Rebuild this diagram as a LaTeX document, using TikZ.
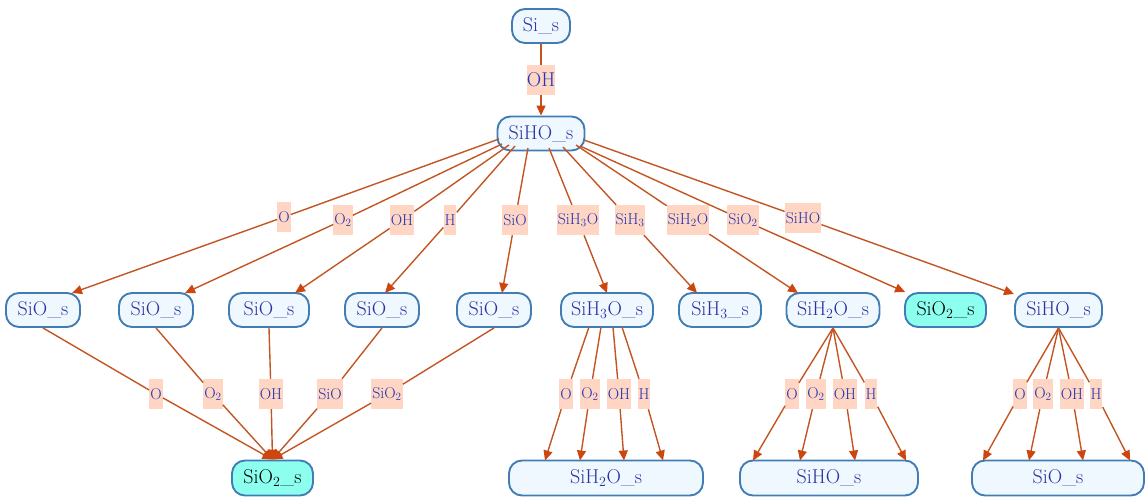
\documentclass[tikz,border=0pt]{standalone}
\usetikzlibrary{arrows.meta,calc}
\definecolor{nodeborder}{RGB}{65,125,180}
\definecolor{nodefill}{RGB}{240,248,255}
\definecolor{nodetext}{RGB}{40,50,160}
\definecolor{labfill}{RGB}{255,213,195}
\definecolor{labtext}{RGB}{35,55,180}
\definecolor{edgecol}{RGB}{195,85,35}
\definecolor{tipcol}{RGB}{205,70,15}
\definecolor{aquafill}{RGB}{140,255,238}
\begin{document}
\begin{tikzpicture}[x=1pt,y=-1pt,
 spec/.style={draw=nodeborder, line width=1.9pt, fill=nodefill, rounded corners=13pt,
   minimum height=34pt, inner sep=0pt, text=nodetext, font=\fontsize{20}{24}\selectfont},
 final/.style={spec, fill=aquafill, text=black},
 lab/.style={fill=labfill, text=labtext, inner xsep=1pt, inner ysep=0pt,
   minimum height=30pt, font=\fontsize{15.8}{18}\selectfont},
 edge/.style={draw=edgecol, line width=1.4pt, -{Triangle[length=10pt,width=9pt,color=tipcol]}},
 plain/.style={draw=edgecol, line width=1.4pt},
]
\useasboundingbox (0,0) rectangle (1146,498);

% top
\node[spec, minimum width=58pt] (si) at (541,26) {Si\_s};
\node[spec, minimum width=87pt] (hub) at (541,133.5) {SiHO\_s};
\node[lab, inner xsep=0pt, font=\fontsize{20}{24}\selectfont] (lOH) at (541,80) {OH};

% row 2
\node[spec, minimum width=74pt] (a1) at (43,310) {SiO\_s};
\node[spec, minimum width=74pt] (a2) at (156,310) {SiO\_s};
\node[spec, minimum width=80pt] (a3) at (269,310) {SiO\_s};
\node[spec, minimum width=74pt] (a4) at (382,310) {SiO\_s};
\node[spec, minimum width=74pt] (a5) at (494,310) {SiO\_s};
\node[spec, minimum width=92pt] (a6) at (607,310) {SiH\textsubscript{3}O\_s};
\node[spec, minimum width=82pt] (a7) at (720,310) {SiH\textsubscript{3}\_s};
\node[spec, minimum width=93pt] (a8) at (833,310) {SiH\textsubscript{2}O\_s};
\node[final, minimum width=81pt] (a9) at (945.5,310) {SiO\textsubscript{2}\_s};
\node[spec, minimum width=87pt] (a10) at (1058.5,310) {SiHO\_s};

% row 3
\node[final, minimum width=81pt, minimum height=35pt] (b1) at (272.5,478) {SiO\textsubscript{2}\_s};
\node[spec, minimum width=194pt, minimum height=35pt] (b2) at (606,478) {SiH\textsubscript{2}O\_s};
\node[spec, minimum width=178pt, minimum height=35pt] (b3) at (829,478) {SiHO\_s};
\node[spec, minimum width=172pt, minimum height=35pt] (b4) at (1058,478) {SiO\_s};

% row-1 labels
\node[lab] (l1) at (284,217) {O};
\node[lab] (l2) at (343,220) {O\textsubscript{2}};
\node[lab] (l3) at (402,220) {OH};
\node[lab] (l4) at (450,220) {H};
\node[lab] (l5) at (515,220) {SiO};
\node[lab] (l6) at (578,220) {SiH\textsubscript{3}O};
\node[lab] (l7) at (630,220) {SiH\textsubscript{3}};
\node[lab] (l8) at (688,220) {SiH\textsubscript{2}O};
\node[lab] (l9) at (743,220) {SiO\textsubscript{2}};
\node[lab] (l10) at (803,218) {SiHO};

% bottom labels
\node[lab] (m1) at (156,394) {O};
\node[lab] (m2) at (213,394) {O\textsubscript{2}};
\node[lab] (m3) at (271,394) {OH};
\node[lab] (m4) at (330,394) {SiO};
\node[lab] (m5) at (387,394) {SiO\textsubscript{2}};
\node[lab] (n1) at (566,394) {O};
\node[lab] (n2) at (590,394) {O\textsubscript{2}};
\node[lab] (n3) at (619,394) {OH};
\node[lab] (n4) at (644,394) {H};
\node[lab] (p1) at (792,394) {O};
\node[lab] (p2) at (816,394) {O\textsubscript{2}};
\node[lab] (p3) at (845,394) {OH};
\node[lab] (p4) at (871,394) {H};
\node[lab] (q1) at (1020,394) {O};
\node[lab] (q2) at (1043,394) {O\textsubscript{2}};
\node[lab] (q3) at (1072,394) {OH};
\node[lab] (q4) at (1096,394) {H};

% coordinates
\coordinate (s1) at (499,139);
\coordinate (s2) at (502,144);
\coordinate (s3) at (509,145);
\coordinate (s4) at (515,146);
\coordinate (s5) at (528,148);
\coordinate (s6) at (549,148);
\coordinate (s7) at (563,147);
\coordinate (s8) at (576,145);
\coordinate (s9) at (580,146);
\coordinate (s10) at (584,140);
\coordinate (t1) at (72,293);
\coordinate (t2) at (185,293);
\coordinate (t3) at (295,293);
\coordinate (t4) at (385,293);
\coordinate (t5) at (502,293);
\coordinate (t6) at (607,293);
\coordinate (t7) at (697,293);
\coordinate (t8) at (798,293);

\coordinate (u1) at (589,327);
\coordinate (u2) at (601,327);
\coordinate (u3) at (613,327);
\coordinate (u4) at (622,327);
\coordinate (v1) at (545,460.5);
\coordinate (v2) at (580,460.5);
\coordinate (v3) at (624,460.5);
\coordinate (v4) at (663,460.5);
\coordinate (w1) at (753,460.5);
\coordinate (w2) at (800,460.5);
\coordinate (w3) at (855,460.5);
\coordinate (w4) at (906,460.5);
\coordinate (x1) at (983,460.5);
\coordinate (x2) at (1029,460.5);
\coordinate (x3) at (1083,460.5);
\coordinate (x4) at (1130,460.5);

% edges
\draw[plain] (si) -- (lOH);
\draw[edge] (lOH) -- (hub);

\foreach \i in {1,...,8} {
  \draw[plain] (s\i) -- (l\i);
  \draw[edge] (l\i) -- (t\i);
}
\draw[plain] (s9) -- (l9);
\draw[edge] (l9) -- (a9);
\draw[plain] (s10) -- (l10);
\draw[edge] (l10) -- (a10);

\foreach \i in {1,...,5} {
  \draw[plain] (a\i.south) -- (m\i);
  \draw[edge] (m\i) -- (b1.north);
}
\foreach \i in {1,...,4} {
  \draw[plain] (u\i) -- (n\i);
  \draw[edge] (n\i) -- (v\i);
  \draw[plain] (a8.south) -- (p\i);
  \draw[edge] (p\i) -- (w\i);
  \draw[plain] (a10.south) -- (q\i);
  \draw[edge] (q\i) -- (x\i);
}
\end{tikzpicture}
\end{document}
